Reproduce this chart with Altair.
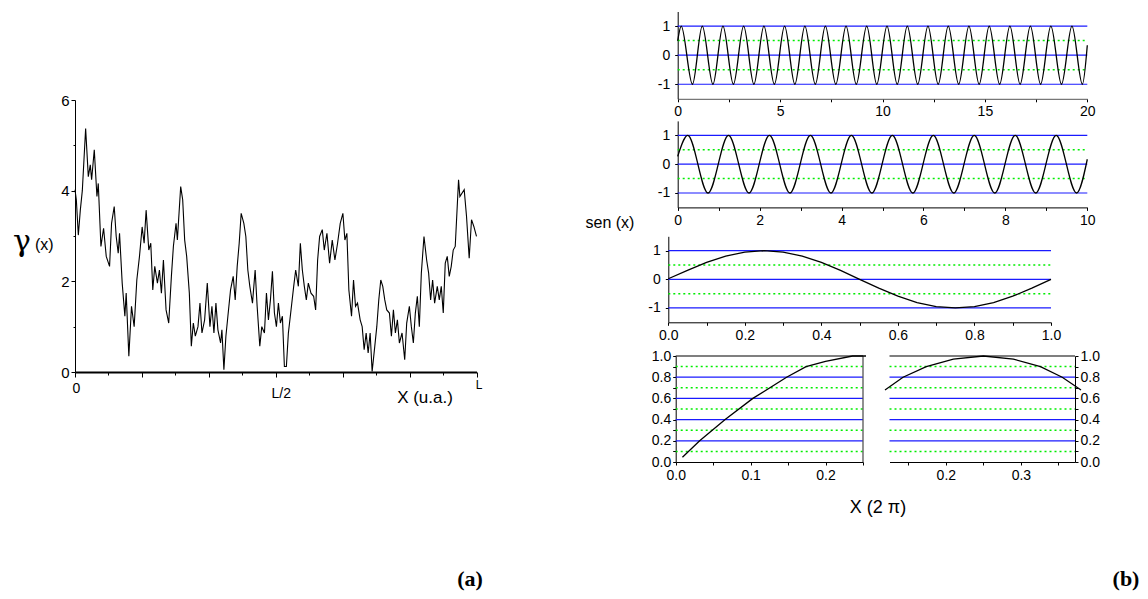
import altair as alt
import pandas as pd

W, H = 1132, 583
FONT = "Liberation Sans"
SERIF = "Liberation Serif"
BLUE = "#1a1aff"
GREEN = "#00ee00"

# ---------------- data: (a) gamma(x) profile, arbitrary units (L = 1208) ----------------
walk_L = 1208
walk_pos = [0, 4, 10, 16, 22, 32, 40, 46, 50, 58, 66, 70, 78, 86, 94, 104, 110, 118, 124, 130,
            134, 142, 150, 154, 162, 170, 178, 186, 194, 202, 208, 214, 222, 228, 234, 240, 248, 254, 260, 266,
            274, 282, 290, 296, 304, 308, 318, 324, 330, 336, 344, 350, 356, 362, 370, 376, 382, 390, 398, 406,
            412, 418, 424, 430, 438, 442, 448, 454, 460, 468, 476, 482, 488, 494, 500, 508, 514, 520, 526, 534,
            542, 548, 556, 562, 570, 576, 582, 588, 594, 600, 606, 612, 618, 624, 630, 636, 642, 650, 658, 664,
            672, 678, 684, 690, 696, 702, 710, 718, 724, 730, 736, 744, 750, 758, 766, 774, 782, 790, 798, 806,
            812, 818, 824, 832, 838, 844, 850, 858, 864, 870, 876, 882, 888, 894, 902, 908, 914, 920, 926, 932,
            938, 946, 952, 958, 964, 970, 976, 984, 992, 998, 1006, 1012, 1018, 1024, 1030, 1036, 1042, 1050, 1058, 1064,
            1070, 1076, 1082, 1090, 1096, 1102, 1108, 1114, 1120, 1126, 1132, 1138, 1144, 1150, 1154, 1158, 1171, 1178, 1186, 1193,
            1200, 1208]
walk_val = [4.02, 3.80, 3.02, 3.57, 4.00, 5.37, 4.31, 4.57, 4.24, 4.90, 3.87, 4.16, 2.77, 3.17, 2.55, 2.33, 3.28, 3.65, 2.99, 2.62,
            3.06, 1.96, 1.23, 1.74, 0.35, 1.45, 1.00, 2.03, 2.55, 3.20, 2.84, 3.57, 2.69, 2.84, 1.81, 2.33, 1.96, 2.25, 1.74, 2.47,
            1.37, 1.08, 2.11, 2.77, 3.28, 2.91, 4.09, 3.80, 2.91, 2.55, 1.74, 0.57, 1.08, 0.79, 1.00, 1.52, 0.86, 1.15, 1.96, 1.00,
            1.45, 0.86, 1.52, 0.93, 0.64, 0.93, 0.05, 0.79, 1.23, 1.81, 2.11, 1.59, 2.33, 2.84, 3.50, 3.28, 2.99, 2.25, 1.89, 1.52,
            2.25, 1.45, 0.57, 1.00, 0.86, 1.74, 1.15, 1.59, 2.22, 1.30, 1.00, 1.52, 1.08, 1.23, 0.12, 0.12, 0.86, 1.37, 1.89, 2.25,
            1.89, 2.84, 2.25, 1.89, 1.59, 1.96, 1.74, 1.67, 1.37, 2.47, 2.99, 3.14, 2.69, 3.06, 2.40, 2.91, 2.47, 2.84, 3.28, 3.50,
            2.91, 3.06, 1.81, 1.23, 2.03, 1.45, 1.52, 1.15, 1.00, 0.49, 0.86, 0.42, 0.86, 0.01, 0.57, 1.00, 1.59, 2.03, 1.89, 1.59,
            1.37, 1.30, 0.79, 1.37, 0.86, 1.15, 0.64, 0.86, 0.27, 1.08, 1.45, 1.00, 0.64, 1.30, 1.67, 1.00, 2.18, 2.99, 2.47, 2.18,
            1.59, 2.03, 1.52, 1.89, 1.59, 1.89, 1.30, 2.40, 2.55, 2.11, 2.33, 2.69, 2.77, 3.65, 4.24, 3.87, 4.02, 3.43, 2.51, 3.36,
            3.21, 2.99]

# ---------------- data: (b) sen(x) panels ----------------
p1_x = [0.0, 0.17, 0.72, 1.20, 1.72, 2.21, 2.72, 3.22, 3.72, 4.21, 4.72, 5.22, 5.72, 6.21, 6.72, 7.21, 7.72,
        8.22, 8.72, 9.23, 9.72, 10.22, 10.72, 11.21, 11.72, 12.22, 12.72, 13.21, 13.72, 14.22, 14.72,
        15.21, 15.72, 16.22, 16.72, 17.22, 17.72, 18.22, 18.74, 19.25, 19.76, 20.0]
p1_y = [0.49, 1, -1, 1, -1, 1, -1, 1, -1, 1, -1, 1, -1, 1, -1, 1, -1, 1, -1, 1, -1,
        1, -1, 1, -1, 1, -1, 1, -1, 1, -1, 1, -1, 1, -1, 1, -1, 1, -1, 1, -1, 0.34]

p2_x = [0.0, 0.245, 0.74, 1.24, 1.74, 2.24, 2.74, 3.24, 3.74, 4.24, 4.74, 5.24, 5.74, 6.24, 6.74,
        7.24, 7.74, 8.24, 8.74, 9.24, 9.74, 10.0]
p2_y = [0.27, 1, -1, 1, -1, 1, -1, 1, -1, 1, -1, 1, -1, 1, -1, 1, -1, 1, -1, 1, -1, 0.17]

p3_x = [0.0, 0.05, 0.1, 0.15, 0.2, 0.25, 0.3, 0.35, 0.4, 0.45, 0.5, 0.55, 0.6, 0.65, 0.7, 0.75,
        0.8, 0.85, 0.9, 0.95, 1.0]
p3_y = [0.02, 0.31, 0.59, 0.81, 0.95, 1.0, 0.95, 0.81, 0.59, 0.31, 0.0, -0.31, -0.59, -0.81, -0.95,
        -1.0, -0.95, -0.81, -0.59, -0.31, 0.0]

b1_x = [0.009, 0.032, 0.066, 0.103, 0.148, 0.174, 0.2, 0.236, 0.254]
b1_y = [0.044, 0.2, 0.4, 0.6, 0.8, 0.9, 0.95, 1.0, 1.0]

b2_x = [0.119, 0.143, 0.174, 0.21, 0.25, 0.29, 0.326, 0.355, 0.380]
b2_y = [0.68, 0.80, 0.90, 0.97, 1.0, 0.97, 0.90, 0.80, 0.68]

# reference levels
sine_solid = [-1, 0, 1]
sine_dotted = [-0.5, 0.5]
zoom_solid = [0.2, 0.4, 0.6, 0.8]
zoom_dotted = [0.1, 0.3, 0.5, 0.7, 0.9]
zoom_top = [1.0]

# tick values
left_xticks = list(range(13))
left_yticks = [0, 1, 2, 3, 4, 5, 6]
p1_xticks = [0, 2.5, 5, 7.5, 10, 12.5, 15, 17.5, 20]
p2_xticks = [0, 1, 2, 3, 4, 5, 6, 7, 8, 9, 10]
p3_xticks = [0, 0.1, 0.2, 0.3, 0.4, 0.5, 0.6, 0.7, 0.8, 0.9, 1.0]
sine_yticks = [-1, 0, 1]
b1_xticks = [0, 0.05, 0.1, 0.15, 0.2, 0.25]
b2_xticks = [0.15, 0.2, 0.25, 0.3, 0.35]
zoom_yticks = [0, 0.1, 0.2, 0.3, 0.4, 0.5, 0.6, 0.7, 0.8, 0.9, 1.0]


def sc(dom, r0, r1):
    return alt.Scale(domain=dom, range=[r0, r1], nice=False, zero=False)


def axis(**kw):
    base = dict(labelFont=FONT, labelFontSize=14, labelColor="black", tickColor="black",
                domainColor="black", tickSize=3, labelPadding=3, grid=False,
                labelFlush=False, labelOverlap=False, title=None)
    base.update(kw)
    return alt.Axis(**base)


def rules(vals, sx, sy, x0, x1, color, width=1.2, dash=None):
    kw = dict(color=color, strokeWidth=width)
    if dash:
        kw["strokeDash"] = dash
    return alt.Chart(pd.DataFrame({"v": vals})).mark_rule(**kw).encode(
        y=alt.Y("v:Q", scale=sy, axis=None),
        x=alt.X(datum=x0, type="quantitative", scale=sx, axis=None),
        x2=alt.X2(datum=x1),
    )


def vline(xv, sx, sy, y0, y1, color, width=1.3):
    return alt.Chart(pd.DataFrame({"v": [xv]})).mark_rule(color=color, strokeWidth=width).encode(
        x=alt.X("v:Q", scale=sx, axis=None),
        y=alt.Y(datum=y0, type="quantitative", scale=sy, axis=None),
        y2=alt.Y2(datum=y1),
    )


def curve(xs, ys, sx, sy, xax, yax, interp="linear"):
    return alt.Chart(pd.DataFrame({"x": xs, "y": ys})).mark_line(
        color="black", strokeWidth=1.3, interpolate=interp).encode(
        x=alt.X("x:Q", scale=sx, axis=xax),
        y=alt.Y("y:Q", scale=sy, axis=yax),
    )


def text(t, x, y, size, align="center", font=FONT, weight="normal"):
    return alt.Chart(alt.Data(values=[{}])).mark_text(
        text=t, font=font, fontSize=size, fontWeight=weight, align=align,
        baseline="alphabetic", color="black").encode(x=alt.value(x), y=alt.value(y))


layers = []

# ---------------- (a) ----------------
sxA = sc([0, 12], 67, 468.5)
syA = sc([0, 6], 364, 92)
layers.append(alt.Chart(pd.DataFrame({"pos": walk_pos, "val": walk_val})).transform_calculate(
    u=f"datum.pos / {walk_L} * 12").mark_line(color="black", strokeWidth=1.1).encode(
    x=alt.X("u:Q", scale=sxA, axis=axis(
        orient="bottom", offset=364 - H, values=left_xticks,
        labelExpr="datum.value == 0 ? '0' : datum.value == 6 ? 'L/2' : datum.value == 12 ? 'L' : ''",
        tickSize={"condition": {"test": "datum.value % 2 == 1", "value": 3}, "value": 5},
        labelFontSize={"condition": {"test": "datum.value == 12", "value": 12}, "value": 14},
        labelPadding={"condition": [{"test": "datum.value == 6", "value": 9},
                                    {"test": "datum.value == 12", "value": 2}], "value": 4},
        labelOffset={"condition": [{"test": "datum.value == 6", "value": 5},
                                   {"test": "datum.value == 12", "value": 2}], "value": 1},
        domainWidth=2)),
    y=alt.Y("val:Q", scale=syA, axis=axis(
        orient="left", offset=-67, values=left_yticks,
        labelExpr="datum.value % 2 == 0 ? '' + datum.value : ''",
        tickSize={"condition": {"test": "datum.value % 2 == 1", "value": 2}, "value": 4},
        labelFontSize=15, labelPadding=2)),
))


# ---------------- (b) sine panels ----------------
def sine_panel(xs, ys, xdom, xr, yr, xticks, xlab, interp, xdomain_color="black"):
    sx = sc(xdom, xr[0], xr[1])
    sy = sc([-1.5, 1.5], yr[0], yr[1])
    xax = axis(orient="bottom", offset=yr[0] - H, values=xticks, labelExpr=xlab, labelPadding=3,
               domainColor=xdomain_color)
    yax = axis(orient="left", offset=-xr[0], values=sine_yticks,
               labelExpr="'' + datum.value", labelPadding=5)
    return [
        rules(sine_solid, sx, sy, xdom[0], xdom[1], BLUE),
        rules(sine_dotted, sx, sy, xdom[0], xdom[1], GREEN, width=1.5, dash=[2, 3]),
        curve(xs, ys, sx, sy, xax, yax, interp),
    ]


layers += sine_panel(p1_x, p1_y, [0, 20], (669.7, 1079.3), (90.8, 3.5), p1_xticks,
                     "datum.value % 5 == 0 ? '' + datum.value : ''", "monotone", "#555555")
layers += sine_panel(p2_x, p2_y, [0, 10], (669.7, 1079.3), (199.4, 112.9), p2_xticks,
                     "datum.value % 2 == 0 ? '' + datum.value : ''", "monotone")
layers += sine_panel(p3_x, p3_y, [0, 1], (660.3, 1043), (314.3, 228.3), p3_xticks,
                     "round(datum.value * 10) % 2 == 0 ? format(datum.value, '.1f') : ''", "linear")

# ---------------- (b) zoomed panels ----------------
zlab = "round(datum.value * 10) % 2 == 0 ? format(datum.value, '.1f') : ''"
xlab_z = "round(datum.value * 100) % 10 == 0 ? format(datum.value, '.1f') : ''"

sxB1 = sc([0, 0.25], 667.7, 855)
syB1 = sc([0, 1], 454, 348)
layers += [
    rules(zoom_solid, sxB1, syB1, 0, 0.25, BLUE),
    rules(zoom_dotted, sxB1, syB1, 0, 0.25, GREEN, width=1.5, dash=[2, 3]),
    rules(zoom_top, sxB1, syB1, 0, 0.25, "black"),
    vline(0.25, sxB1, syB1, 0, 1, "#555555"),
    curve(b1_x, b1_y, sxB1, syB1,
          axis(orient="bottom", offset=454 - H, values=b1_xticks, labelExpr=xlab_z),
          axis(orient="left", offset=-667.7, values=zoom_yticks, labelExpr=zlab, labelPadding=2)),
]

sxB2 = sc([0.125, 0.372], 881.5, 1067)
syB2 = sc([0, 1], 454, 348)
layers += [
    rules(zoom_solid, sxB2, syB2, 0.125, 0.372, BLUE),
    rules(zoom_dotted, sxB2, syB2, 0.125, 0.372, GREEN, width=1.5, dash=[2, 3]),
    rules(zoom_top, sxB2, syB2, 0.125, 0.372, "black"),
    curve(b2_x, b2_y, sxB2, syB2,
          axis(orient="bottom", offset=454 - H, values=b2_xticks, labelExpr=xlab_z),
          axis(orient="right", offset=1067 - W, values=zoom_yticks, labelExpr=zlab, labelPadding=2)),
]

layers += [
    text("γ", 14, 243, 30, font="DejaVu Serif"),
    text("(x)", 27, 242, 16, align="left"),
    text("X (u.a.)", 417, 395, 17),
    text("sen (x)", 602, 220, 16),
    text("X (2 π)", 870, 505, 18),
    text("(a)", 462, 578, 22, font=SERIF, weight="bold"),
    text("(b)", 1118, 578, 22, font=SERIF, weight="bold"),
]

chart = alt.layer(*layers).resolve_scale(
    x="independent", y="independent").resolve_axis(x="independent", y="independent").properties(
    width=W, height=H, autosize=alt.AutoSizeParams(type="none"), padding=0,
    background="white").configure_view(strokeWidth=0)

chart.save("out.html", embed_options={"renderer": "svg", "actions": False})
